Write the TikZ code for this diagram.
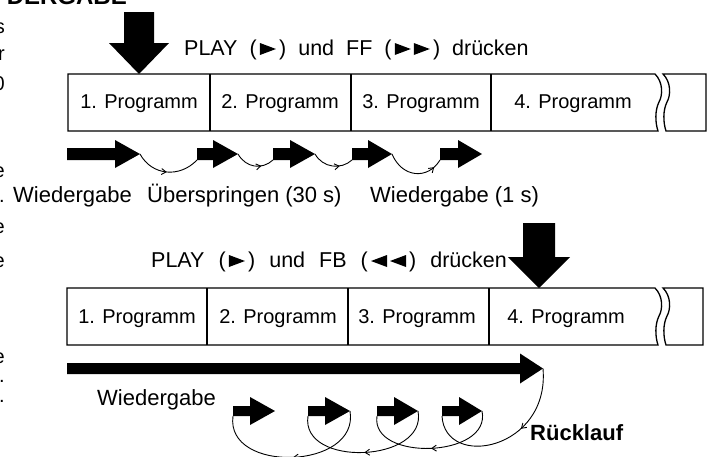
\documentclass[tikz,border=0pt]{standalone}
\usepackage{fontspec}
\setmainfont{Liberation Sans}
\usetikzlibrary{decorations.markings,arrows.meta,calc}
\tikzset{
  cellfont/.style={font=\fontsize{20}{24}\selectfont, inner sep=0pt},
  lblfont/.style={font=\fontsize{22}{26}\selectfont, inner sep=0pt},
  playfont/.style={font=\fontsize{21.5}{26}\selectfont, inner sep=0pt, anchor=base west},
  stripline/.style={line width=1.3pt, line join=miter},
  arcline/.style={line width=0.9pt, postaction={decorate},
    decoration={markings, mark=at position #1 with {\arrow{Straight Barb[length=4.5pt,width=6pt]}}}},
}
\newcommand\hblock[7]{% name, tail, base, tip, y, half shaft, half head
  \fill (#2,#5-#6) -- (#3,#5-#6) -- (#3,#5-#7) -- (#4,#5) -- (#3,#5+#7) -- (#3,#5+#6) -- (#2,#5+#6) -- cycle;
  \coordinate (#1-tip) at (#4,#5);
  \coordinate (#1-tail) at (#2,#5+#6);
}
\newcommand\trir[1]{\fill (#1) -- ++(16,-6) -- ++(-16,-6) -- cycle;}
\newcommand\tril[1]{\fill ($(#1)+(16,0)$) -- ++(-16,-6) -- ++(16,-6) -- cycle;}
\newcommand\gap{\hspace{12pt}}
\newcommand\gapb{\hspace{14pt}}
\begin{document}
\begin{tikzpicture}[x=1pt,y=-1pt]
\useasboundingbox (0,0) rectangle (713,456);
\clip (0,0) rectangle (713,456);

% fragments of neighbouring column
\node[font=\fontsize{24}{28}\selectfont\bfseries, inner sep=0pt, anchor=base east] (head) at (127,4) {DERGABE};
\foreach \t/\yy [count=\i] in {s/33, r/60, 0/90, e/177, ./202, e/233, e/267, e/363, ./382, ./402}
  \node[cellfont, anchor=base east] (frag\i) at (5,\yy) {\t};

% ---------- upper diagram ----------
\fill (124,12) -- (154,12) -- (154,43) -- (169,43) -- (139,74) -- (109,43) -- (124,43) -- cycle;
\node[playfont] (pa1) at (184,55) {PLAY\gap(};
\coordinate (ta1) at ($(pa1.base east)+(3,0)$);
\trir{ta1}
\node[playfont] (pa2) at ($(pa1.base east)+(22,0)$) {)\gap und\gap FF\gap(};
\coordinate (ta2) at ($(pa2.base east)+(3,0)$);
\coordinate (ta3) at ($(pa2.base east)+(22,0)$);
\trir{ta2} \trir{ta3}
\node[playfont] (pa3) at ($(pa2.base east)+(41,0)$) {)\gap drücken};

\draw[stripline] (68,74) -- (655,74) .. controls (663,82) and (663,95) .. (659,102) .. controls (655,110) and (655,122) .. (658,131) -- (68,131) -- cycle;
\draw[stripline] (706,74) -- (663,74) .. controls (671,82) and (671,95) .. (667,102) .. controls (663,110) and (663,122) .. (666,131) -- (706,131) -- cycle;
\draw[stripline] (210,74) -- (210,131) (351,74) -- (351,131) (491,74) -- (491,131);
\node[cellfont, anchor=base] (p1a) at (139,108) {1. Programm};
\node[cellfont, anchor=base] (p2a) at (280,108) {2. Programm};
\node[cellfont, anchor=base] (p3a) at (421,108) {3. Programm};
\node[cellfont, anchor=base] (p4a) at (573,108) {4. Programm};

\hblock{a1}{67}{115}{140}{154}{6}{14}
\hblock{a2}{197}{213}{238}{154}{6}{14}
\hblock{a3}{273}{290}{315}{154}{6}{14}
\hblock{a4}{352}{368}{392}{154}{6}{14}
\hblock{a5}{440}{458}{482}{154}{6}{14}
\draw[arcline=0.5] (a1-tip) .. controls (152,176) and (180,178) .. (a2-tail);
\draw[arcline=0.68] (a2-tip) .. controls (246,168) and (262,170) .. (a3-tail);
\draw[arcline=0.68] (a3-tip) .. controls (323,168) and (341,170) .. (a4-tail);
\draw[arcline=0.85] (a4-tip) .. controls (402,178) and (428,180) .. (a5-tail);

\node[lblfont, anchor=base west] (wg1) at (13,202) {Wiedergabe};
\node[lblfont, anchor=base west] (skip) at (147,202) {Überspringen (30 s)};
\node[lblfont, anchor=base west] (wg2) at (370,202) {Wiedergabe (1 s)};

% ---------- lower diagram ----------
\fill (523,223) -- (555,223) -- (555,257) -- (570,257) -- (539,288) -- (508,257) -- (523,257) -- cycle;
\node[playfont] (pb1) at (151,267) {PLAY\gapb(};
\coordinate (tb1) at ($(pb1.base east)+(3,0)$);
\trir{tb1}
\node[playfont] (pb2) at ($(pb1.base east)+(22,0)$) {)\gapb und\gapb FB\gapb(};
\coordinate (tb2) at ($(pb2.base east)+(3,0)$);
\coordinate (tb3) at ($(pb2.base east)+(22,0)$);
\tril{tb2} \tril{tb3}
\node[playfont] (pb3) at ($(pb2.base east)+(41,0)$) {)\gapb drücken};

\draw[stripline] (67,288) -- (655,288) .. controls (663,296) and (663,309) .. (659,316) .. controls (655,324) and (655,336) .. (658,345) -- (67,345) -- cycle;
\draw[stripline] (703,288) -- (663,288) .. controls (671,296) and (671,309) .. (667,316) .. controls (663,324) and (663,336) .. (666,345) -- (703,345) -- cycle;
\draw[stripline] (207,288) -- (207,345) (348,288) -- (348,345) (489,288) -- (489,345);
\node[cellfont, anchor=base] (p1b) at (137,323) {1. Programm};
\node[cellfont, anchor=base] (p2b) at (278,323) {2. Programm};
\node[cellfont, anchor=base] (p3b) at (417,323) {3. Programm};
\node[cellfont, anchor=base] (p4b) at (566,323) {4. Programm};

\hblock{big}{67}{520}{543}{368.5}{5.5}{15}
\hblock{b1}{233}{250}{275}{411}{5}{14}
\hblock{b2}{308}{325}{350}{411}{5}{14}
\hblock{b3}{377}{394}{418}{411}{5}{14}
\hblock{b4}{442}{459}{482}{411}{5}{14}
\draw[arcline=0.4] (big-tip) .. controls (550,450) and (445,470) .. (b4-tail);
\draw[arcline=0.5] (b4-tip) .. controls (492,458) and (370,462) .. (b3-tail);
\draw[arcline=0.5] (b3-tip) .. controls (428,463) and (300,468) .. (b2-tail);
\draw[arcline=0.5] (b2-tip) .. controls (360,470) and (225,474) .. (b1-tail);

\node[lblfont, anchor=base west] (wg3) at (97,405) {Wiedergabe};
\node[lblfont, anchor=base west, font=\fontsize{22}{26}\selectfont\bfseries] (rueck) at (530,440) {Rücklauf};
\end{tikzpicture}
\end{document}
